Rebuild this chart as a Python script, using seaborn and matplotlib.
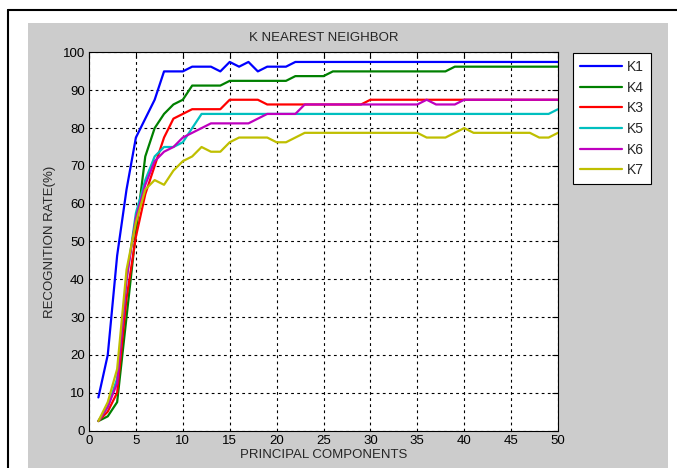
import numpy as np
import pandas as pd
import matplotlib
import matplotlib.pyplot as plt
import seaborn as sns
from matplotlib.patches import Rectangle
from matplotlib.lines import Line2D

matplotlib.use('Agg')

# Recognition rate (%) for each number of principal components (1..50)
components = list(range(1, 51))

k1 = [8.75, 20, 46.25, 63.75, 77.5, 82.5, 87.5, 95, 95, 95,
      96.25, 96.25, 96.25, 95, 97.5, 96.25, 97.5, 95, 96.25, 96.25,
      96.25] + [97.5] * 29
k4 = [2.5, 3.75, 7.5, 30, 52.5, 72.5, 80, 83.75, 86.25, 87.5,
      91.25, 91.25, 91.25, 91.25] + [92.5] * 7 + [93.75] * 4 + [95] * 13 + [96.25] * 12
k3 = [2.5, 5, 10, 35, 51.25, 62.5, 70, 77.5, 82.5, 83.75,
      85, 85, 85, 85, 87.5, 87.5, 87.5, 87.5] + [86.25] * 11 + [87.5] * 21
k5 = [2.5, 6.25, 13.75, 40, 57.5, 66.25, 72.5, 75, 75, 76.25,
      80] + [83.75] * 38 + [85]
k6 = [2.5, 6.25, 12.5, 40, 56.25, 65, 71.25, 73.75, 75, 77.5,
      78.75, 80, 81.25, 81.25, 81.25, 81.25, 81.25, 82.5, 83.75, 83.75,
      83.75, 83.75] + [86.25] * 13 + [87.5, 86.25, 86.25, 86.25] + [87.5] * 11
k7 = [2.5, 7.5, 16.25, 42.5, 55, 63.75, 66.25, 65, 68.75, 71.25,
      72.5, 75, 73.75, 73.75, 76.25, 77.5, 77.5, 77.5, 77.5, 76.25,
      76.25, 77.5] + [78.75] * 13 + [77.5, 77.5, 77.5, 78.75, 80] + [78.75] * 7 + [77.5, 77.5, 78.75]

series = {"K1": k1, "K4": k4, "K3": k3, "K5": k5, "K6": k6, "K7": k7}
colors = {"K1": (0, 0, 1), "K4": (0, 0.5, 0), "K3": (1, 0, 0),
          "K5": (0, 0.75, 0.75), "K6": (0.75, 0, 0.75), "K7": (0.75, 0.75, 0)}

df = pd.concat([pd.DataFrame({"PC": components, "Rate": v, "K": k})
                for k, v in series.items()], ignore_index=True)

sns.set_style("white")
plt.rcParams['font.family'] = ['Liberation Sans', 'DejaVu Sans']

W, H = 677, 468
fig = plt.figure(figsize=(W / 100, H / 100), dpi=100)
fig.patch.set_facecolor('white')

# grey MATLAB figure panel and outer frame
fig.patches.append(Rectangle((28 / W, 0), (668 - 28) / W, 1 - 23 / H,
                             transform=fig.transFigure, facecolor='#cccccc',
                             edgecolor='none', zorder=-5))
fig.add_artist(Line2D([8 / W, 8 / W], [0, 1 - 10 / H], transform=fig.transFigure,
                      color='black', lw=1.5))
fig.add_artist(Line2D([8 / W, 1], [1 - 10 / H, 1 - 10 / H], transform=fig.transFigure,
                      color='black', lw=1.5))

ax = fig.add_axes([89 / W, 1 - 430.5 / H, (558 - 89) / W, (430.5 - 52.5) / H])
ax.set_zorder(2)
ax.set_facecolor('white')

sns.lineplot(data=df, x="PC", y="Rate", hue="K", hue_order=list(series.keys()),
             palette=colors, linewidth=1.6, legend=False, ax=ax)

ax.set_xlim(0, 50)
ax.set_ylim(0, 100)
ax.set_xticks(range(0, 51, 5))
ax.set_yticks(range(0, 101, 10))
ax.tick_params(direction='in', top=True, right=True, length=4, width=0.8,
               labelsize=9.5, pad=3, colors='black')
ax.grid(True, color='black', linestyle=(0, (2.5, 3)), linewidth=0.8)
for s in ax.spines.values():
    s.set_color('black')
    s.set_linewidth(0.8)

ax.set_title("K NEAREST NEIGHBOR", fontsize=9.5, pad=8)
ax.set_xlabel("PRINCIPAL COMPONENTS", fontsize=9.5, labelpad=2)
ax.set_ylabel("RECOGNITION RATE(%)", fontsize=9.5, labelpad=5)

handles = [Line2D([], [], color=colors[k], lw=1.6) for k in series]
leg = fig.legend(handles, list(series.keys()), loc='upper left',
                 bbox_to_anchor=(573 / W, 1 - 53 / H), frameon=True, fancybox=False,
                 edgecolor='black', facecolor='white', framealpha=1,
                 fontsize=10, handlelength=3.0, handletextpad=0.4,
                 labelspacing=0.48, borderpad=0.5, borderaxespad=0)
leg.get_frame().set_linewidth(0.8)
leg.set_zorder(3)

plt.savefig("out.png", dpi=100)
plt.close()
